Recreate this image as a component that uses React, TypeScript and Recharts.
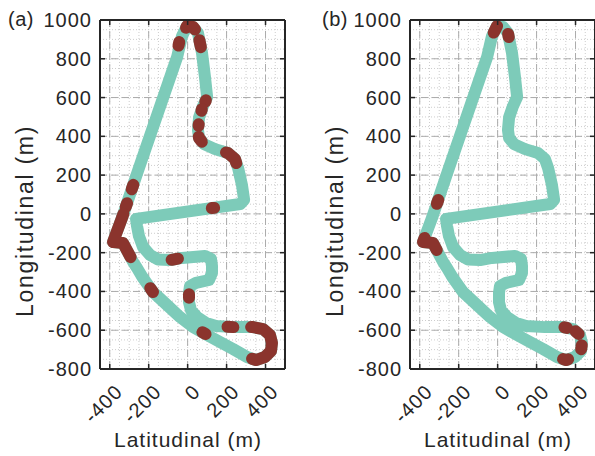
import React from 'react';
import { ComposedChart, Line, XAxis, YAxis, CartesianGrid, ReferenceLine } from 'recharts';

type Pt = { x: number; y: number };

// ---- axis values ----
const xDomain: [number, number] = [-450, 500];
const yDomain: [number, number] = [-800, 1000];
const xTicks = [-400, -200, 0, 200, 400];
const yTicks = [-800, -600, -400, -200, 0, 200, 400, 600, 800, 1000];
const minorX = [-450, -400, -350, -300, -250, -200, -150, -100, -50, 0, 50, 100, 150, 200, 250, 300, 350, 400, 450, 500];
const minorY = [-800, -750, -700, -650, -600, -550, -500, -450, -400, -350, -300, -250, -200, -150, -100, -50, 0, 50, 100, 150, 200, 250, 300, 350, 400, 450, 500, 550, 600, 650, 700, 750, 800, 850, 900, 950, 1000];

// ---- track (m) ----
const track: Pt[] = [
  { x: -280, y: -248 }, { x: -332, y: -150 }, { x: -383, y: -145 }, { x: -337, y: -21 },
  { x: -259, y: 210 }, { x: -54, y: 809 }, { x: -29, y: 917 }, { x: -3, y: 969 },
  { x: 28, y: 964 }, { x: 53, y: 933 }, { x: 74, y: 829 }, { x: 89, y: 706 },
  { x: 100, y: 603 }, { x: 79, y: 556 }, { x: 59, y: 499 }, { x: 53, y: 433 },
  { x: 59, y: 391 }, { x: 84, y: 360 }, { x: 141, y: 334 }, { x: 207, y: 314 },
  { x: 243, y: 283 }, { x: 259, y: 237 }, { x: 279, y: 149 }, { x: 290, y: 72 },
  { x: 270, y: 51 }, { x: -265, y: -26 }, { x: -260, y: -62 }, { x: -250, y: -114 },
  { x: -229, y: -171 }, { x: -193, y: -212 }, { x: -152, y: -235 }, { x: -90, y: -238 },
  { x: -29, y: -227 }, { x: 89, y: -217 }, { x: 120, y: -232 }, { x: 125, y: -268 },
  { x: 125, y: -305 }, { x: 110, y: -341 }, { x: 43, y: -356 }, { x: 12, y: -372 },
  { x: 7, y: -408 }, { x: 7, y: -455 }, { x: 17, y: -496 }, { x: 48, y: -532 },
  { x: 95, y: -563 }, { x: 146, y: -578 }, { x: 243, y: -584 }, { x: 336, y: -584 },
  { x: 387, y: -594 }, { x: 423, y: -625 }, { x: 433, y: -666 }, { x: 428, y: -707 },
  { x: 397, y: -738 }, { x: 351, y: -754 }, { x: 305, y: -738 }, { x: 233, y: -697 },
  { x: 166, y: -661 }, { x: 100, y: -625 }, { x: 28, y: -584 }, { x: -39, y: -532 },
  { x: -106, y: -470 }, { x: -178, y: -403 }, { x: -229, y: -331 }, { x: -260, y: -279 },
  { x: -280, y: -248 },
];

// ---- highlighted segments, panel (a) ----
const redA: Pt[][] = [
  [{ x: -47, y: 868 }, { x: -43, y: 886 }],
  [{ x: -8, y: 960 }, { x: -3, y: 969 }, { x: 28, y: 964 }, { x: 38, y: 951 }],
  [{ x: 60, y: 896 }, { x: 68, y: 860 }],
  [{ x: 94, y: 586 }, { x: 91, y: 579 }],
  [{ x: 73, y: 540 }, { x: 71, y: 532 }],
  [{ x: 57, y: 462 }, { x: 56, y: 454 }],
  [{ x: 57, y: 398 }, { x: 59, y: 391 }, { x: 73, y: 372 }],
  [{ x: 197, y: 317 }, { x: 207, y: 314 }, { x: 243, y: 283 }, { x: 250, y: 262 }],
  [{ x: 136, y: 31 }, { x: 124, y: 30 }],
  [{ x: -279, y: 150 }, { x: -287, y: 127 }],
  [{ x: -311, y: 55 }, { x: -318, y: 35 }],
  [{ x: -330, y: 0 }, { x: -337, y: -21 }, { x: -383, y: -145 }, { x: -332, y: -150 }, { x: -293, y: -223 }],
  [{ x: -82, y: -237 }, { x: -50, y: -231 }],
  [{ x: -192, y: -383 }, { x: -178, y: -403 }],
  [{ x: 7, y: -415 }, { x: 7, y: -432 }],
  [{ x: 92, y: -620 }, { x: 76, y: -611 }],
  [{ x: 205, y: -582 }, { x: 235, y: -584 }],
  [{ x: 326, y: -584 }, { x: 336, y: -584 }, { x: 387, y: -594 }, { x: 423, y: -625 }, { x: 433, y: -666 }, { x: 428, y: -707 }, { x: 397, y: -738 }, { x: 351, y: -754 }, { x: 331, y: -747 }],
];

// ---- highlighted segments, panel (b) ----
const redB: Pt[][] = [
  [{ x: -20, y: 935 }, { x: -3, y: 969 }],
  [{ x: 54, y: 928 }, { x: 57, y: 912 }],
  [{ x: -305, y: 72 }, { x: -312, y: 52 }],
  [{ x: -375, y: -124 }, { x: -383, y: -145 }, { x: -332, y: -150 }, { x: -313, y: -186 }],
  [{ x: 343, y: -585 }, { x: 356, y: -588 }],
  [{ x: 400, y: -605 }, { x: 416, y: -619 }],
  [{ x: 432, y: -678 }, { x: 429, y: -698 }],
  [{ x: 362, y: -750 }, { x: 351, y: -754 }, { x: 336, y: -749 }],
];

// ---- style ----
const TEAL = '#7dcbb9';
const RED = '#8b342d';
const INK = '#262626';
const FONT = '"Liberation Sans", Arial, Helvetica, sans-serif';
const PLOT_W = 185;
const PLOT_H = 349;
const TICK = 5;
const LINE_W = 12;

const XTick = (props: any) => {
  const { x, y, payload } = props;
  const ax = x + 14;
  const ay = y + 24;
  return (
    <g>
      <line x1={x} y1={y} x2={x} y2={y - TICK} stroke={INK} strokeWidth={1.5} />
      <line x1={x} y1={y - PLOT_H} x2={x} y2={y - PLOT_H + TICK} stroke={INK} strokeWidth={1.5} />
      <text x={ax} y={ay} textAnchor="end" transform={`rotate(-45 ${ax} ${ay})`} fontFamily={FONT} fontSize={20} letterSpacing={1} fill={INK}>
        {payload.value}
      </text>
    </g>
  );
};

const YTick = (props: any) => {
  const { x, y, payload } = props;
  return (
    <g>
      <line x1={x} y1={y} x2={x + TICK} y2={y} stroke={INK} strokeWidth={1.5} />
      <line x1={x + PLOT_W} y1={y} x2={x + PLOT_W - TICK} y2={y} stroke={INK} strokeWidth={1.5} />
      <text x={x - 8} y={y + 7} textAnchor="end" fontFamily={FONT} fontSize={20} letterSpacing={1} fill={INK}>
        {payload.value}
      </text>
    </g>
  );
};

const Panel = ({ left, width, right, reds }: { left: number; width: number; right: number; reds: Pt[][] }) => (
  <div style={{ position: 'absolute', left, top: 0 }}>
    <ComposedChart width={width} height={456} margin={{ top: 20, right, bottom: 0, left: 10 }}>
      <CartesianGrid verticalValues={minorX} horizontalValues={minorY} stroke="#cdcdcd" strokeDasharray="1 2" strokeWidth={1} />
      <CartesianGrid verticalValues={xTicks} horizontalValues={yTicks} stroke="#ababab" strokeDasharray="7 4" strokeWidth={1} />
      <XAxis dataKey="x" type="number" domain={xDomain} ticks={xTicks} interval={0} allowDataOverflow height={87}
        tickSize={0} tickMargin={0} tickLine={false} axisLine={false} tick={<XTick />} />
      <YAxis dataKey="y" type="number" domain={yDomain} ticks={yTicks} interval={0} allowDataOverflow width={90}
        tickSize={0} tickMargin={0} tickLine={false} axisLine={false} tick={<YTick />} />
      <Line data={track} dataKey="y" type="linear" stroke={TEAL} strokeWidth={LINE_W} dot={false} activeDot={false}
        isAnimationActive={false} strokeLinecap="round" strokeLinejoin="round" />
      {reds.map((seg, i) => (
        <Line key={i} data={seg} dataKey="y" type="linear" stroke={RED} strokeWidth={LINE_W} dot={false} activeDot={false}
          isAnimationActive={false} strokeLinecap="round" strokeLinejoin="round" />
      ))}
      <ReferenceLine x={xDomain[0]} stroke={INK} strokeWidth={2} />
      <ReferenceLine x={xDomain[1]} stroke={INK} strokeWidth={2} />
      <ReferenceLine y={yDomain[0]} stroke={INK} strokeWidth={2} />
      <ReferenceLine y={yDomain[1]} stroke={INK} strokeWidth={2} />
    </ComposedChart>
  </div>
);

export default function App() {
  return (
    <div style={{ position: 'absolute', left: 0, top: 0, width: 595, height: 456, overflow: 'hidden', background: '#fff' }}>
      <Panel left={0} width={300} right={15} reds={redA} />
      <Panel left={310} width={285} right={0} reds={redB} />
      <svg width={595} height={456} style={{ position: 'absolute', left: 0, top: 0, pointerEvents: 'none' }}>
        <g fontFamily={FONT} fill={INK}>
          <text x={8} y={26} fontSize={20} letterSpacing={0.5}>(a)</text>
          <text x={322} y={26} fontSize={20} letterSpacing={0.5}>(b)</text>
          <text x={188} y={447} fontSize={21} letterSpacing={1} textAnchor="middle">Latitudinal (m)</text>
          <text x={498} y={447} fontSize={21} letterSpacing={1} textAnchor="middle">Latitudinal (m)</text>
          <text x={33} y={221} fontSize={23} letterSpacing={1.7} textAnchor="middle" transform="rotate(-90 33 221)">Longitudinal (m)</text>
          <text x={343} y={221} fontSize={23} letterSpacing={1.7} textAnchor="middle" transform="rotate(-90 343 221)">Longitudinal (m)</text>
        </g>
      </svg>
    </div>
  );
}
